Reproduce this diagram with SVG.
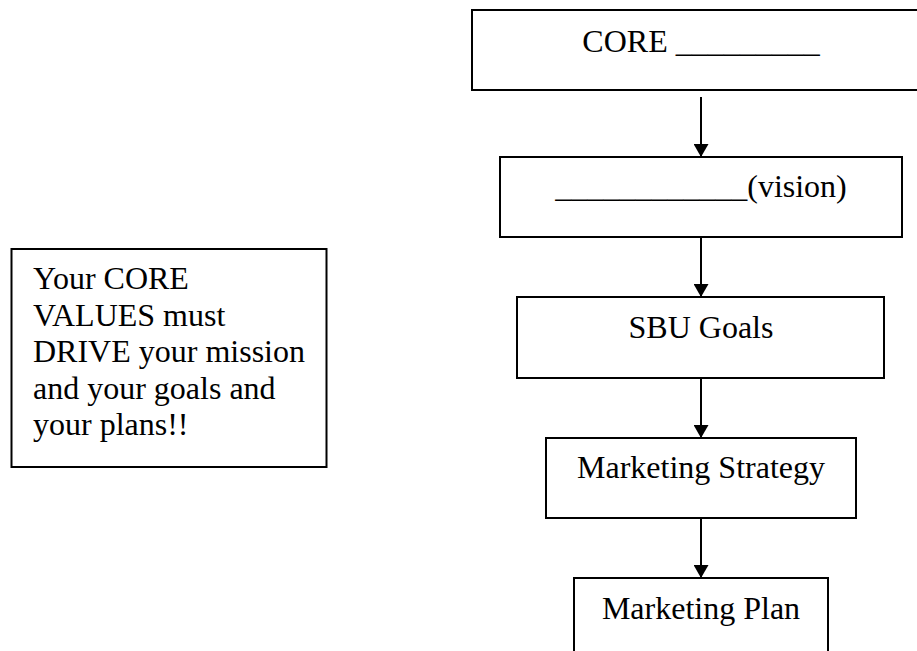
<svg xmlns="http://www.w3.org/2000/svg" width="917" height="651" viewBox="0 0 917 651">
<style>
.box{fill:#fff;stroke:#000;stroke-width:2}
.t{font-family:"Liberation Serif","Times New Roman",serif;font-size:32px;fill:#000}
.c{text-anchor:middle}
.conn{stroke:#000;stroke-width:2;fill:none}
</style>
<defs>
<marker id="ah" markerUnits="userSpaceOnUse" markerWidth="14" markerHeight="15" refX="13" refY="7.5" orient="auto" viewBox="0 0 14 15">
<path d="M0,0 L13,7.5 L0,15 z" fill="#000"/>
</marker>
</defs>
<rect width="917" height="651" fill="#fff"/>
<g id="connectors">
<line class="conn" x1="701" y1="97" x2="701" y2="157" marker-end="url(#ah)"/>
<line class="conn" x1="701" y1="237" x2="701" y2="297" marker-end="url(#ah)"/>
<line class="conn" x1="701" y1="378" x2="701" y2="438" marker-end="url(#ah)"/>
<line class="conn" x1="701" y1="518" x2="701" y2="578" marker-end="url(#ah)"/>
</g>
<g id="core">
<rect class="box" x="472" y="10" width="470" height="80"/>
<text class="t c" x="701" y="52">CORE _________</text>
</g>
<g id="vision">
<rect class="box" x="500" y="157" width="402" height="80"/>
<text class="t c" x="701" y="197">____________(vision)</text>
</g>
<g id="sbu">
<rect class="box" x="517" y="297" width="367" height="81"/>
<text class="t c" x="701" y="338">SBU Goals</text>
</g>
<g id="strategy">
<rect class="box" x="546" y="438" width="310" height="80"/>
<text class="t c" x="701" y="478">Marketing Strategy</text>
</g>
<g id="plan">
<rect class="box" x="574" y="578" width="254" height="90"/>
<text class="t c" x="701" y="619">Marketing Plan</text>
</g>
<g id="note">
<rect class="box" x="11.5" y="249" width="315" height="218"/>
<text class="t" x="33" y="289">Your CORE</text>
<text class="t" x="33" y="325.5">VALUES must</text>
<text class="t" x="33" y="362">DRIVE your mission</text>
<text class="t" x="33" y="398.5">and your goals and</text>
<text class="t" x="33" y="435">your plans!!</text>
</g>
</svg>
